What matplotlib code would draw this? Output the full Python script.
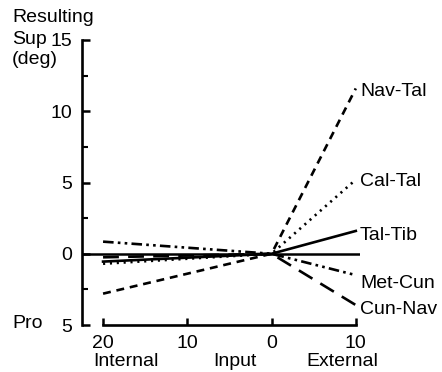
import numpy as np
import matplotlib
matplotlib.use('Agg')
import matplotlib.pyplot as plt

plt.rcParams['font.family'] = ['Liberation Sans', 'DejaVu Sans']

# input rotation: internal 20 .. 0 .. external 10
x_input = [-20, 0, 10]
x_ticks = [-20, -10, 0, 10]
x_ticklabels = ['20', '10', '0', '10']
y_ticks = [-5, 0, 5, 10, 15]
y_ticklabels = ['5', '0', '5', '10', '15']

joints = ['Nav-Tal', 'Cal-Tal', 'Tal-Tib', 'Met-Cun', 'Cun-Nav']
nav_tal = [-2.8, 0, 11.6]
cal_tal = [-0.7, 0, 5.2]
tal_tib = [-0.55, 0, 1.6]
met_cun = [0.85, 0, -1.5]
cun_nav = [-0.25, 0, -3.6]

styles = [(0, (3, 2.2)), (0, (0.8, 1.8)), '-', (0, (4, 1.6, 1, 1.6, 1, 1.6)), (0, (6, 3.5))]
label_nudge = [-2, -1, -3, -6, -3]  # points

FS = 14

fig = plt.figure(figsize=(4.42, 3.72), dpi=100)
ax = fig.add_axes([82 / 442, 47 / 372, 278 / 442, 285 / 372])

ax.axhline(0, color='black', lw=1.8)
for name, vals, ls, dy in zip(joints, [nav_tal, cal_tal, tal_tib, met_cun, cun_nav], styles, label_nudge):
    ax.plot(x_input, vals, color='black', lw=1.9, linestyle=ls)
    ax.annotate(name, xy=(x_input[-1], vals[-1]), xytext=(3, dy), textcoords='offset points',
                va='center', ha='left', fontsize=FS, annotation_clip=False)

ax.set_xlim(-22.5, 10.5)
ax.set_ylim(-5, 15)

for s in ['top', 'right']:
    ax.spines[s].set_visible(False)
ax.spines['left'].set_linewidth(1.9)
ax.spines['bottom'].set_linewidth(1.9)
ax.spines['bottom'].set_bounds(-20, 10)

ax.set_xticks(x_ticks)
ax.set_xticklabels(x_ticklabels, fontsize=FS)
ax.set_yticks(y_ticks)
ax.set_yticklabels(y_ticklabels, fontsize=FS)
ax.set_yticks([-2.5, 2.5, 7.5, 12.5], minor=True)
ax.tick_params(axis='y', which='major', direction='in', length=6, width=1.8, pad=7)
ax.tick_params(axis='y', which='minor', direction='in', length=4, width=1.5)
ax.tick_params(axis='x', which='major', direction='in', length=5, width=1.8, pad=7)

fig.text(12 / 442, 1 - 17 / 372, 'Resulting', fontsize=FS, va='center', ha='left')
fig.text(12 / 442, 1 - 39 / 372, 'Sup', fontsize=FS, va='center', ha='left')
fig.text(12 / 442, 1 - 59 / 372, '(deg)', fontsize=FS, va='center', ha='left')
fig.text(12 / 442, 1 - 323 / 372, 'Pro', fontsize=FS, va='center', ha='left')

fig.text(126 / 442, 1 - 362 / 372, 'Internal', fontsize=FS, va='center', ha='center')
fig.text(235 / 442, 1 - 362 / 372, 'Input', fontsize=FS, va='center', ha='center')
fig.text(342 / 442, 1 - 362 / 372, 'External', fontsize=FS, va='center', ha='center')

fig.savefig('out.png', dpi=100)
